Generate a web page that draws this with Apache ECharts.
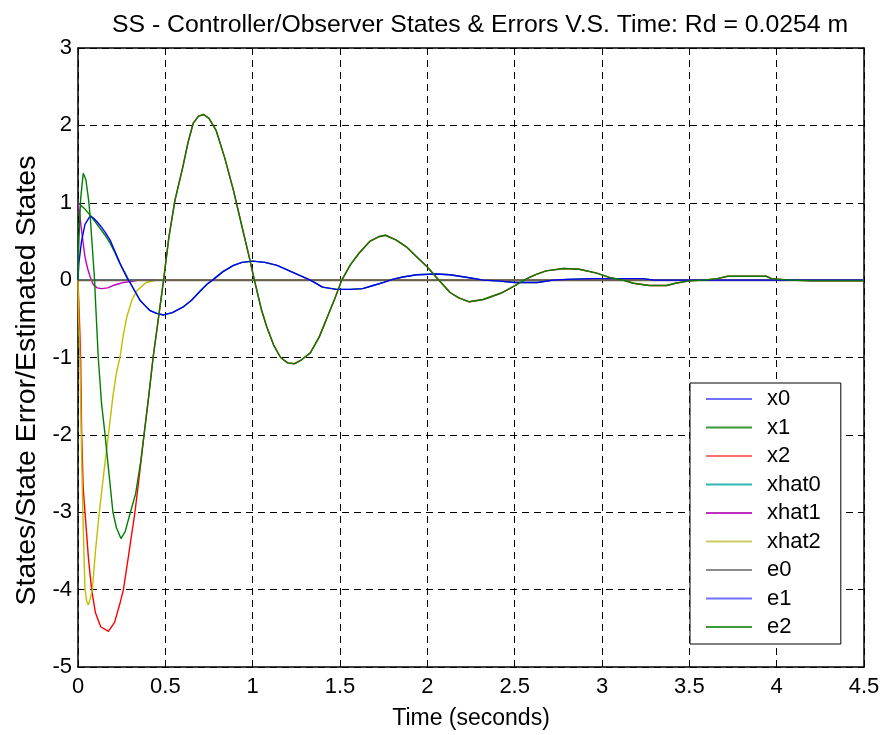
<!DOCTYPE html>
<html>
<head>
<meta charset="utf-8">
<script src="https://cdn.jsdelivr.net/npm/echarts@6/dist/echarts.min.js"></script>
<style>
  html, body { margin: 0; padding: 0; background: #fff; }
  #chart { width: 886px; height: 735px; }
</style>
</head>
<body>
<div id="chart"></div>
<script>
// Time axis ticks and y-axis ticks
const xTicks = [0, 0.5, 1, 1.5, 2, 2.5, 3, 3.5, 4, 4.5];
const yTicks = [-5, -4, -3, -2, -1, 0, 1, 2, 3];

// Series names in drawing order
const seriesNames = ['x0', 'x1', 'x2', 'xhat0', 'xhat1', 'xhat2', 'e0', 'e1', 'e2'];

// x0: position state (flat at this scale)
const x0T = [0, 4.5];
const x0V = [0, 0];

// x1: velocity state
const x1T = [0, 0.035, 0.069, 0.1, 0.126, 0.155, 0.183, 0.21, 0.23, 0.25, 0.27, 0.3, 0.33, 0.355, 0.38, 0.41, 0.45, 0.49, 0.54, 0.6, 0.65, 0.7, 0.74, 0.77, 0.83, 0.89, 0.94, 1.0, 1.07, 1.14, 1.23, 1.33, 1.4, 1.48, 1.56, 1.63, 1.69, 1.75, 1.8, 1.86, 1.94, 2.05, 2.13, 2.24, 2.32, 2.4, 2.5, 2.63, 2.72, 2.8, 2.95, 3.23, 3.3, 4.5];
const x1V = [1.0, 0.93, 0.84, 0.75, 0.67, 0.58, 0.48, 0.36, 0.26, 0.17, 0.09, -0.04, -0.16, -0.26, -0.32, -0.39, -0.43, -0.45, -0.42, -0.35, -0.26, -0.14, -0.05, 0.0, 0.11, 0.19, 0.23, 0.245, 0.23, 0.19, 0.1, 0.0, -0.09, -0.12, -0.12, -0.11, -0.07, -0.03, 0.01, 0.04, 0.07, 0.08, 0.07, 0.03, 0.0, -0.01, -0.03, -0.03, 0.0, 0.01, 0.02, 0.02, 0.0, 0.0];

// x2: acceleration state
const x2T = [0, 0.008, 0.015, 0.021, 0.03, 0.04, 0.06, 0.078, 0.1, 0.13, 0.174, 0.21, 0.24, 0.26, 0.29, 0.326, 0.35, 0.378, 0.405, 0.43, 0.46, 0.49, 0.52, 0.555, 0.6, 0.63, 0.66, 0.69, 0.72, 0.75, 0.79, 0.84, 0.89, 0.94, 0.98, 1.01, 1.05, 1.08, 1.12, 1.16, 1.2, 1.24, 1.28, 1.33, 1.38, 1.42, 1.47, 1.51, 1.56, 1.61, 1.67, 1.72, 1.76, 1.82, 1.88, 1.94, 2.0, 2.05, 2.09, 2.13, 2.18, 2.24, 2.32, 2.42, 2.51, 2.57, 2.62, 2.68, 2.78, 2.87, 2.97, 3.05, 3.12, 3.18, 3.27, 3.37, 3.42, 3.5, 3.58, 3.66, 3.72, 3.94, 3.97, 4.08, 4.2, 4.5];
const x2V = [0, -0.5, -1.0, -2.0, -2.7, -3.0, -3.6, -4.0, -4.3, -4.48, -4.54, -4.42, -4.18, -4.0, -3.55, -3.0, -2.55, -2.0, -1.5, -1.0, -0.5, 0.0, 0.55, 1.03, 1.46, 1.78, 2.03, 2.12, 2.14, 2.09, 1.94, 1.58, 1.16, 0.68, 0.3, 0.0, -0.38, -0.6, -0.84, -1.0, -1.07, -1.08, -1.03, -0.94, -0.74, -0.52, -0.24, 0.0, 0.2, 0.35, 0.5, 0.56, 0.58, 0.52, 0.43, 0.3, 0.17, 0.04, -0.06, -0.16, -0.23, -0.28, -0.25, -0.17, -0.06, 0.02, 0.07, 0.12, 0.15, 0.14, 0.09, 0.03, 0.0, -0.04, -0.07, -0.07, -0.04, -0.01, 0.0, 0.02, 0.05, 0.05, 0.02, 0.0, -0.01, -0.01];

// Observer estimates
const xhat0T = [0, 4.5];
const xhat0V = [0, 0];

const xhat1T = [0, 0.01, 0.02, 0.03, 0.04, 0.055, 0.07, 0.088, 0.11, 0.135, 0.17, 0.2, 0.23, 0.26, 0.3, 0.35, 4.5];
const xhat1V = [1.0, 0.85, 0.65, 0.47, 0.3, 0.15, 0.04, -0.06, -0.1, -0.11, -0.1, -0.07, -0.05, -0.03, -0.02, 0.0, 0.0];

const xhat2T = [0, 0.005, 0.011, 0.02, 0.03, 0.04, 0.05, 0.059, 0.07, 0.082, 0.1, 0.122, 0.15, 0.174, 0.2, 0.22, 0.24, 0.26, 0.28, 0.31, 0.34, 0.39, 0.45, 4.5];
const xhat2V = [0, -0.6, -1.0, -2.2, -3.2, -4.0, -4.15, -4.2, -4.12, -4.0, -3.5, -3.0, -2.45, -2.0, -1.5, -1.2, -1.0, -0.7, -0.47, -0.25, -0.13, -0.03, 0.0, 0.0];

// Estimation errors
const e0T = [0, 4.5];
const e0V = [0, 0];

const e1T = [0, 0.005, 0.02, 0.04, 0.07, 0.09, 0.11, 0.126, 0.155, 0.183, 0.21, 0.24, 0.28, 0.3, 0.33, 0.355, 0.38, 0.41, 0.45, 0.49, 0.54, 0.6, 0.65, 0.7, 0.74, 0.77, 0.83, 0.89, 0.94, 1.0, 1.07, 1.14, 1.23, 1.33, 1.4, 1.48, 1.56, 1.63, 1.69, 1.75, 1.8, 1.86, 1.94, 2.05, 2.13, 2.24, 2.32, 2.4, 2.5, 2.63, 2.72, 2.8, 2.95, 3.23, 3.3, 4.5];
const e1V = [0, 0.22, 0.5, 0.72, 0.83, 0.8, 0.75, 0.71, 0.62, 0.52, 0.38, 0.22, 0.03, -0.04, -0.16, -0.26, -0.32, -0.39, -0.43, -0.45, -0.42, -0.35, -0.26, -0.14, -0.05, 0.0, 0.11, 0.19, 0.23, 0.245, 0.23, 0.19, 0.1, 0.0, -0.09, -0.12, -0.12, -0.11, -0.07, -0.03, 0.01, 0.04, 0.07, 0.08, 0.07, 0.03, 0.0, -0.01, -0.03, -0.03, 0.0, 0.01, 0.02, 0.02, 0.0, 0.0];

const e2T = [0, 0.005, 0.015, 0.03, 0.045, 0.06, 0.07, 0.087, 0.095, 0.1, 0.116, 0.135, 0.155, 0.175, 0.2, 0.22, 0.246, 0.27, 0.3, 0.33, 0.36, 0.378, 0.405, 0.43, 0.46, 0.49, 0.52, 0.555, 0.6, 0.63, 0.66, 0.69, 0.72, 0.75, 0.79, 0.84, 0.89, 0.94, 0.98, 1.01, 1.05, 1.08, 1.12, 1.16, 1.2, 1.24, 1.28, 1.33, 1.38, 1.42, 1.47, 1.51, 1.56, 1.61, 1.67, 1.72, 1.76, 1.82, 1.88, 1.94, 2.0, 2.05, 2.09, 2.13, 2.18, 2.24, 2.32, 2.42, 2.51, 2.57, 2.62, 2.68, 2.78, 2.87, 2.97, 3.05, 3.12, 3.18, 3.27, 3.37, 3.42, 3.5, 3.58, 3.66, 3.72, 3.94, 3.97, 4.08, 4.2, 4.5];
const e2V = [0, 0.5, 1.05, 1.38, 1.3, 1.05, 0.82, 0.26, 0.0, -0.26, -1.0, -1.6, -2.0, -2.45, -3.0, -3.2, -3.34, -3.25, -3.0, -2.76, -2.33, -2.0, -1.5, -1.0, -0.5, 0.0, 0.55, 1.03, 1.46, 1.78, 2.03, 2.12, 2.14, 2.09, 1.94, 1.58, 1.16, 0.68, 0.3, 0.0, -0.38, -0.6, -0.84, -1.0, -1.07, -1.08, -1.03, -0.94, -0.74, -0.52, -0.24, 0.0, 0.2, 0.35, 0.5, 0.56, 0.58, 0.52, 0.43, 0.3, 0.17, 0.04, -0.06, -0.16, -0.23, -0.28, -0.25, -0.17, -0.06, 0.02, 0.07, 0.12, 0.15, 0.14, 0.09, 0.03, 0.0, -0.04, -0.07, -0.07, -0.04, -0.01, 0.0, 0.02, 0.05, 0.05, 0.02, 0.0, -0.01, -0.01];

const seriesTimes = [x0T, x1T, x2T, xhat0T, xhat1T, xhat2T, e0T, e1T, e2T];
const seriesValues = [x0V, x1V, x2V, xhat0V, xhat1V, xhat2V, e0V, e1V, e2V];
const seriesColors = ['#0000ff', '#008000', '#ff0000', '#00bfbf', '#bf00bf', '#bfbf00', '#6a604e', '#0000ff', '#008000'];
const legendColors = ['#7070ff', '#3a9a3a', '#ff7070', '#30b8b8', '#c030c0', '#cccc60', '#8a8a8a', '#7070ff', '#3a9a3a'];

const FONT = 'Liberation Sans, Arial, sans-serif';

const chart = echarts.init(document.getElementById('chart'), null, { renderer: 'canvas' });

const series = seriesNames.map((name, i) => ({
  name: name,
  type: 'line',
  xAxisIndex: 0,
  yAxisIndex: 0,
  symbol: 'none',
  animation: false,
  lineStyle: { color: seriesColors[i], width: name === 'e0' ? 2 : 1.4 },
  itemStyle: { color: seriesColors[i] },
  data: seriesTimes[i].map((t, k) => [t, seriesValues[i][k]])
}));

const gridLine = { show: true, lineStyle: { color: '#000', type: [7, 5], width: 1 } };

chart.setOption({
  animation: false,
  backgroundColor: '#fff',
  title: {
    text: 'SS - Controller/Observer States & Errors V.S. Time: Rd = 0.0254 m',
    left: 107,
    top: 8,
    textStyle: { fontFamily: FONT, fontSize: 24.8, fontWeight: 'normal', color: '#000' }
  },
  grid: { left: 78, right: 22, top: 48, bottom: 68, containLabel: false },
  legend: {
    orient: 'vertical',
    left: 690,
    top: 383,
    padding: [5, 20, 6, 16],
    itemGap: 6.5,
    itemWidth: 46,
    itemHeight: 2,
    icon: 'rect',
    backgroundColor: '#fff',
    borderColor: '#000',
    borderWidth: 1,
    borderRadius: 0,
    selectedMode: false,
    textStyle: { fontFamily: FONT, fontSize: 22, color: '#000', lineHeight: 22, padding: [0, 0, 0, 10] },
    data: seriesNames.map((n, i) => ({ name: n, itemStyle: { color: legendColors[i] } }))
  },
  xAxis: [
    {
      type: 'value', position: 'bottom', min: 0, max: 4.5, interval: 0.5,
      name: 'Time (seconds)', nameLocation: 'middle', nameGap: 40,
      nameTextStyle: { fontFamily: FONT, fontSize: 23, color: '#000' },
      axisLine: { show: true, onZero: false, lineStyle: { color: '#000', width: 1.5 } },
      axisTick: { show: true, inside: true, length: 6, lineStyle: { color: '#000' } },
      axisLabel: { fontFamily: FONT, fontSize: 22, color: '#000', margin: 9,
        formatter: v => String(xTicks.find(t => Math.abs(t - v) < 1e-9) ?? v) },
      splitLine: gridLine
    },
    {
      type: 'value', position: 'top', min: 0, max: 4.5, interval: 0.5,
      axisLine: { show: true, onZero: false, lineStyle: { color: '#000', width: 1.5 } },
      axisTick: { show: true, inside: true, length: 6, lineStyle: { color: '#000' } },
      axisLabel: { show: false },
      splitLine: { show: false }
    }
  ],
  yAxis: [
    {
      type: 'value', position: 'left', min: -5, max: 3, interval: 1,
      name: 'States/State Error/Estimated States', nameLocation: 'middle', nameGap: 33,
      nameTextStyle: { fontFamily: FONT, fontSize: 28.5, color: '#000', padding: [0, 46, 0, 0] },
      axisLine: { show: true, onZero: false, lineStyle: { color: '#000', width: 1.5 } },
      axisTick: { show: true, inside: true, length: 6, lineStyle: { color: '#000' } },
      axisLabel: { fontFamily: FONT, fontSize: 22, color: '#000', margin: 6,
        formatter: v => String(yTicks.find(t => Math.abs(t - v) < 1e-9) ?? v) },
      splitLine: gridLine
    },
    {
      type: 'value', position: 'right', min: -5, max: 3, interval: 1,
      axisLine: { show: true, onZero: false, lineStyle: { color: '#000', width: 1.5 } },
      axisTick: { show: true, inside: true, length: 6, lineStyle: { color: '#000' } },
      axisLabel: { show: false },
      splitLine: { show: false }
    }
  ],
  series: series
});
</script>
</body>
</html>
